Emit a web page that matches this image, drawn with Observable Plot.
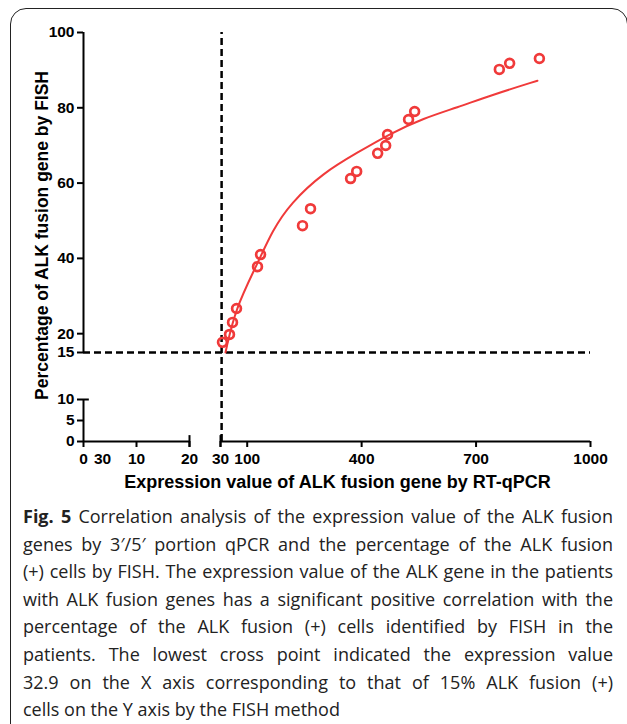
<!DOCTYPE html>
<html><head><meta charset="utf-8">
<script src="https://cdn.jsdelivr.net/npm/d3@7"></script>
<script src="https://cdn.jsdelivr.net/npm/@observablehq/plot@0.6"></script>
<style>
body{margin:0;background:#fff;width:627px;height:724px;overflow:hidden;position:relative}
#frame{position:absolute;left:10px;top:8px;width:618px;height:740px;border:1.5px solid #222;border-radius:16px;box-sizing:border-box}
#chart{position:absolute;left:0;top:0}
#caption{position:absolute;left:23px;top:503px;width:590px;font-family:"Open Sans",sans-serif;font-size:18px;line-height:27.6px;color:#222}
#caption div{text-align:justify;text-align-last:justify}
#caption div.last{text-align-last:left}
</style></head>
<body>
<div id="frame"></div>
<div id="chart"></div>
<div id="caption"></div>
<script>
// data
const expr = [35.2, 53.6, 61.5, 72, 127, 135, 245, 266, 371, 387, 442, 463, 468, 523, 539, 761, 788, 866];
const fish = [17.7, 19.8, 23, 26.7, 37.8, 41, 48.7, 53.2, 61.2, 63.1, 67.9, 70, 72.9, 76.9, 79, 90.2, 91.8, 93.1];
const fitX = [43, 69, 127, 166, 213, 300, 389, 476, 562, 651, 738, 861];
const fitY = [15, 26.7, 38.6, 47.4, 54.6, 62.8, 68.1, 73.2, 77.2, 80.1, 83.3, 87.2];
const cutoffX = 32.9, cutoffY = 15;
const xDomain = [0, 20, 30, 1000];       // broken x axis
const yDomain = [0, 10, 15, 100];        // broken y axis
const xTicksLeft = [0, 10, 20];
const xTicksRight = [30, 100, 400, 700, 1000];
const yTicksUpper = [15, 20, 40, 60, 80, 100];
const yTicksLower = [0, 5, 10];
const strayLabels = [{x: 3.6, label: "30"}];
const xLabel = "Expression value of ALK fusion gene by RT-qPCR";
const yLabel = "Percentage of ALK fusion gene by FISH";
const captionLines = [
  "<b>Fig. 5</b> Correlation analysis of the expression value of the ALK fusion",
  "genes by 3′/5′ portion qPCR and the percentage of the ALK fusion",
  "(+) cells by FISH. The expression value of the ALK gene in the patients",
  "with ALK fusion genes has a significant positive correlation with the",
  "percentage of the ALK fusion (+) cells identified by FISH in the",
  "patients. The lowest cross point indicated the expression value",
  "32.9 on the X axis corresponding to that of 15% ALK fusion (+)",
  "cells on the Y axis by the FISH method"
];

const pts = expr.map((x, i) => ({x, y: fish[i]}));
const fit = fitX.map((x, i) => ({x, y: fitY[i]}));
const red = "#f03a3a";
const black = "#000";

const chart = Plot.plot({
  width: 627, height: 500,
  marginLeft: 83, marginRight: 36, marginTop: 29, marginBottom: 59,
  style: {fontFamily: "'Liberation Sans', Arial, sans-serif", fontSize: "15.5px", fontWeight: "bold", color: "#000", background: "transparent"},
  x: {type: "linear", domain: xDomain, range: [83, 189, 220, 590]},
  y: {type: "linear", domain: yDomain, range: [441, 399, 352, 32]},
  marks: [
    Plot.axisY(yTicksUpper.concat(yTicksLower), {anchor: "left", tickSize: 6, tickPadding: 3, strokeWidth: 2, stroke: black, fontSize: 15.5, tickFormat: d => String(d), label: null}),
    Plot.axisX(xTicksLeft.concat(xTicksRight), {anchor: "bottom", tickSize: 6, tickPadding: 5, strokeWidth: 2, stroke: black, fontSize: 15.5, tickFormat: d => String(d), label: null}),
    Plot.text(strayLabels, {x: "x", y: () => 0, text: "label", dy: 11, lineAnchor: "top", fontSize: 15.5, fill: black}),
    // axis lines with breaks
    Plot.ruleX([0], {y1: 15, y2: 100, stroke: black, strokeWidth: 2}),
    Plot.ruleX([0], {y1: 0, y2: 10, stroke: black, strokeWidth: 2}),
    Plot.ruleY([10], {x1: 0, x2: 1.1, stroke: black, strokeWidth: 2}),
    Plot.ruleY([0], {x1: 0, x2: 20, stroke: black, strokeWidth: 2}),
    Plot.ruleY([0], {x1: 30, x2: 1000, stroke: black, strokeWidth: 2}),
    Plot.ruleX([20, 30], {y1: -1.4, y2: 1.4, stroke: black, strokeWidth: 2}),
    // cutoff dashed lines
    Plot.ruleX([cutoffX], {y1: 0, y2: 100, stroke: black, strokeWidth: 2.5, strokeDasharray: "7,4"}),
    Plot.ruleY([cutoffY], {x1: 0, x2: 1000, stroke: black, strokeWidth: 2.5, strokeDasharray: "7,4"}),
    // fit curve and points
    Plot.line(fit, {x: "x", y: "y", stroke: red, strokeWidth: 2, curve: "basis"}),
    Plot.dot(pts, {x: "x", y: "y", r: 4.4, stroke: red, strokeWidth: 2.7, fill: "none"}),
    // axis titles
    Plot.text([xLabel], {frameAnchor: "bottom", dy: 41, lineAnchor: "middle", fontSize: 18, fontWeight: "bold", fill: black}),
    Plot.text([yLabel], {frameAnchor: "left", dx: -41, rotate: -90, textAnchor: "middle", lineAnchor: "middle", fontSize: 17.5, fontWeight: "bold", fill: black})
  ]
});
document.getElementById("chart").appendChild(chart);

const cap = document.getElementById("caption");
captionLines.forEach((l, i) => {
  const d = document.createElement("div");
  d.innerHTML = l;
  if (i === captionLines.length - 1) d.className = "last";
  cap.appendChild(d);
});
</script>
</body></html>
